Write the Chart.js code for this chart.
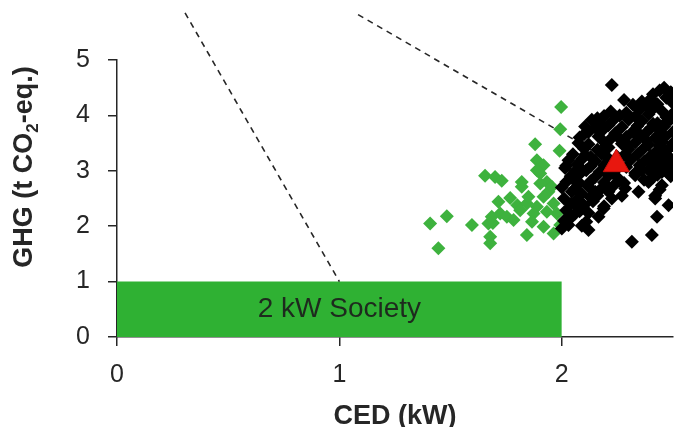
<!DOCTYPE html>
<html>
<head>
<meta charset="utf-8">
<script src="https://cdn.jsdelivr.net/npm/chart.js@4/dist/chart.umd.min.js"></script>
<style>
  html, body { margin: 0; padding: 0; background: #ffffff; }
  #wrap { width: 680px; height: 427px; }
</style>
</head>
<body>
<div id="wrap"><canvas id="c" width="680" height="427"></canvas></div>
<script>
// Axis ticks
const xTicks = [0, 1, 2];
const yTicks = [0, 1, 2, 3, 4, 5];

// Green cluster (CED in kW, GHG in t CO2-eq.)
const greenCED = [1.997, 1.993, 1.880, 1.990, 1.888, 1.918, 1.655, 1.700, 1.730, 1.820,
  1.820, 1.903, 1.933, 1.940, 1.768, 1.715, 1.800, 1.843, 1.888, 1.873,
  1.963, 1.978, 1.723, 1.753, 1.690, 1.670, 1.783, 1.408, 1.483, 1.596,
  1.445, 1.678, 1.678, 1.843, 1.963, 1.993, 1.918, 1.866, 1.903, 1.955,
  1.918, 1.850, 1.813, 1.933, 1.888, 1.685];
const greenGHG = [4.15, 3.75, 3.48, 3.36, 3.19, 3.10, 2.91, 2.89, 2.82, 2.80,
  2.71, 2.95, 2.80, 2.62, 2.51, 2.44, 2.38, 2.41, 2.35, 2.23,
  2.41, 2.23, 2.23, 2.17, 2.06, 2.05, 2.11, 2.05, 2.18, 2.02,
  1.60, 1.81, 1.69, 1.84, 1.87, 2.02, 1.99, 2.08, 2.77, 2.71,
  2.53, 2.53, 2.29, 2.26, 3.01, 2.17];

// Black cluster
const blackCED = [2.225, 2.46, 2.41, 2.49, 2.44, 2.28, 2.40, 2.47, 2.36, 2.32,
  2.43, 2.38, 2.50, 2.22, 2.35, 2.45, 2.29, 2.41, 2.19, 2.26,
  2.33, 2.39, 2.47, 2.50, 2.135, 2.17, 2.23, 2.30, 2.36, 2.43,
  2.49, 2.105, 2.15, 2.21, 2.27, 2.34, 2.40, 2.46, 2.12, 2.18,
  2.24, 2.32, 2.38, 2.44, 2.50, 2.08, 2.165, 2.22, 2.29, 2.345,
  2.42, 2.465, 2.075, 2.12, 2.19, 2.27, 2.33, 2.39, 2.45, 2.50,
  2.10, 2.16, 2.21, 2.30, 2.37, 2.43, 2.48, 2.05, 2.105, 2.18,
  2.28, 2.34, 2.40, 2.46, 2.03, 2.09, 2.15, 2.31, 2.37, 2.44,
  2.50, 2.02, 2.07, 2.13, 2.19, 2.29, 2.35, 2.42, 2.47, 2.015,
  2.06, 2.11, 2.17, 2.24, 2.33, 2.39, 2.45, 2.495, 2.04, 2.075,
  2.15, 2.21, 2.33, 2.41, 2.49, 2.02, 2.08, 2.13, 2.19, 2.26,
  2.39, 2.45, 2.00, 2.06, 2.12, 2.18, 2.285, 2.44, 2.045, 2.09,
  2.15, 2.345, 2.42, 2.01, 2.07, 2.13, 2.225, 2.42, 2.04, 2.10,
  2.19, 2.48, 2.02, 2.08, 2.188, 2.06, 2.165, 2.428, 2.01, 2.11,
  2.03, 2.00, 2.09, 2.12, 2.405, 2.315,
  2.25, 2.21, 2.25, 2.28, 2.23, 2.30, 2.26, 2.35, 2.41, 2.47,
  2.38, 2.44, 2.48, 2.40, 2.36, 2.48, 2.43, 2.37, 2.14, 2.07,
  2.12, 2.04, 2.16, 2.21, 2.27, 2.10, 2.16, 2.20, 2.13, 2.09,
  2.05];
const blackGHG = [4.55, 4.50, 4.38, 4.42, 4.45, 4.28, 4.30, 4.32, 4.25, 4.19,
  4.20, 4.17, 4.22, 4.07, 4.10, 4.08, 4.05, 4.12, 3.99, 4.00,
  3.98, 4.02, 3.97, 4.04, 3.92, 3.88, 3.91, 3.92, 3.90, 3.86,
  3.93, 3.80, 3.78, 3.82, 3.79, 3.81, 3.77, 3.80, 3.70, 3.72,
  3.68, 3.71, 3.69, 3.73, 3.70, 3.60, 3.62, 3.58, 3.61, 3.62,
  3.59, 3.62, 3.50, 3.48, 3.52, 3.49, 3.51, 3.47, 3.52, 3.50,
  3.40, 3.38, 3.42, 3.39, 3.41, 3.37, 3.40, 3.30, 3.29, 3.31,
  3.28, 3.30, 3.27, 3.31, 3.19, 3.21, 3.18, 3.20, 3.17, 3.21,
  3.18, 3.09, 3.11, 3.08, 3.10, 3.07, 3.10, 3.08, 3.11, 3.05,
  2.99, 3.01, 2.98, 3.00, 2.96, 3.01, 2.98, 3.05, 2.90, 2.92,
  2.89, 2.91, 2.92, 2.88, 2.90, 2.80, 2.78, 2.81, 2.79, 2.82,
  2.80, 2.74, 2.70, 2.68, 2.71, 2.69, 2.68, 2.66, 2.62, 2.58,
  2.62, 2.62, 2.55, 2.50, 2.48, 2.52, 2.50, 2.50, 2.40, 2.38,
  2.36, 2.38, 2.29, 2.27, 2.32, 2.23, 2.17, 2.17, 2.10, 2.08,
  2.02, 1.96, 2.01, 1.93, 1.84, 1.72,
  3.25, 3.22, 2.88, 2.78, 2.72, 3.45, 3.58, 3.66, 3.85, 3.88,
  3.55, 3.45, 3.26, 3.14, 3.02, 2.95, 2.93, 2.84, 2.45, 2.35,
  2.24, 2.15, 2.55, 2.62, 2.55, 3.66, 3.95, 3.45, 3.25, 3.02,
  2.85];

// Mean marker
const meanCED = 2.245;
const meanGHG = 3.12;

// Dashed guide lines
const guideA_CED = [0.306, 1.0];
const guideA_GHG = [5.85, 1.0];
const guideB_CED = [1.084, meanCED];
const guideB_GHG = [5.82, meanGHG];

// 2 kW Society target box
const targetCED = [0, 2];
const targetGHG = [1, 1];
const targetLabel = '2 kW Society';

const yTitleMain = ['GHG (t CO', '2', '-eq.)'];
const xTitle = 'CED (kW)';

const pairs = (xs, ys) => xs.map((x, i) => ({ x: x, y: ys[i] }));

const FONT = "'Liberation Sans', Arial, Helvetica, sans-serif";
const INK = '#262626';

// Draws the rotated y title with a subscript and the label inside the target box
const annotations = {
  id: 'annotations',
  afterDraw(chart) {
    const ctx = chart.ctx;
    const xs = chart.scales.x, ys = chart.scales.y;

    ctx.save();
    ctx.fillStyle = '#1e2a1e';
    ctx.font = '28px ' + FONT;
    ctx.textAlign = 'center';
    ctx.textBaseline = 'middle';
    ctx.fillText(targetLabel, xs.getPixelForValue(1), ys.getPixelForValue(0.5));
    ctx.restore();

    ctx.save();
    ctx.fillStyle = INK;
    ctx.textBaseline = 'middle';
    ctx.textAlign = 'left';
    const mainFont = 'bold 27px ' + FONT;
    const subFont = 'bold 17px ' + FONT;
    ctx.font = mainFont;
    const w0 = ctx.measureText(yTitleMain[0]).width;
    const w2 = ctx.measureText(yTitleMain[2]).width;
    ctx.font = subFont;
    const w1 = ctx.measureText(yTitleMain[1]).width;
    const total = w0 + w1 + w2;
    ctx.translate(25, 167);
    ctx.rotate(-Math.PI / 2);
    let cx = -total / 2;
    ctx.font = mainFont;
    ctx.fillText(yTitleMain[0], cx, 0);
    cx += w0;
    ctx.font = subFont;
    ctx.fillText(yTitleMain[1], cx, 8);
    cx += w1;
    ctx.font = mainFont;
    ctx.fillText(yTitleMain[2], cx, 0);
    ctx.restore();
  }
};

const axisCommon = {
  grid: { display: true, drawOnChartArea: false, drawTicks: true, tickLength: 9, color: INK, lineWidth: 1.5 },
  border: { display: true, color: INK, width: 1.5 },
  z: 1
};

new Chart(document.getElementById('c'), {
  type: 'scatter',
  data: {
    datasets: [
      {
        label: 'mean',
        data: [{ x: meanCED, y: meanGHG }],
        pointStyle: 'triangle',
        pointRadius: 15,
        backgroundColor: '#e8170f',
        borderColor: '#c8100a',
        borderWidth: 1
      },
      {
        label: 'black',
        data: pairs(blackCED, blackGHG),
        pointStyle: 'rectRot',
        pointRadius: 7,
        backgroundColor: '#000000',
        borderColor: '#000000',
        borderWidth: 0
      },
      {
        label: 'green',
        data: pairs(greenCED, greenGHG),
        pointStyle: 'rectRot',
        pointRadius: 7,
        backgroundColor: '#3eb23e',
        borderColor: '#3eb23e',
        borderWidth: 0
      },
      {
        type: 'line',
        label: 'guideA',
        data: pairs(guideA_CED, guideA_GHG),
        borderColor: INK,
        borderWidth: 1.6,
        borderDash: [6, 5],
        pointRadius: 0,
        fill: false,
        clip: false
      },
      {
        type: 'line',
        label: 'guideB',
        data: pairs(guideB_CED, guideB_GHG),
        borderColor: INK,
        borderWidth: 1.6,
        borderDash: [6, 5],
        pointRadius: 0,
        fill: false,
        clip: false
      },
      {
        type: 'line',
        label: 'target',
        data: pairs(targetCED, targetGHG),
        borderWidth: 0,
        borderColor: 'rgba(0,0,0,0)',
        backgroundColor: '#2fb133',
        pointRadius: 0,
        fill: 'origin'
      }
    ]
  },
  options: {
    responsive: false,
    animation: false,
    events: [],
    layout: { autoPadding: false, padding: { top: 60, right: 7, left: 0, bottom: 0 } },
    plugins: { legend: { display: false }, tooltip: { enabled: false } },
    scales: {
      x: Object.assign({}, axisCommon, {
        type: 'linear',
        min: 0,
        max: 2.5,
        afterFit(s) { s.height = 90; },
        afterBuildTicks(s) { s.ticks = xTicks.map(v => ({ value: v })); },
        ticks: { color: INK, font: { family: FONT, size: 25 }, padding: 14, includeBounds: false, callback: v => String(v) },
        title: { display: true, text: xTitle, color: INK, font: { family: FONT, size: 27, weight: 'bold', lineHeight: 1 }, padding: { top: 0, bottom: -3 } }
      }),
      y: Object.assign({}, axisCommon, {
        type: 'linear',
        min: 0,
        max: 5,
        afterFit(s) { s.width = 117; },
        afterBuildTicks(s) { s.ticks = yTicks.map(v => ({ value: v })); },
        ticks: { color: INK, font: { family: FONT, size: 25 }, padding: 18, callback: v => String(v) }
      })
    }
  },
  plugins: [annotations]
});
</script>
</body>
</html>
